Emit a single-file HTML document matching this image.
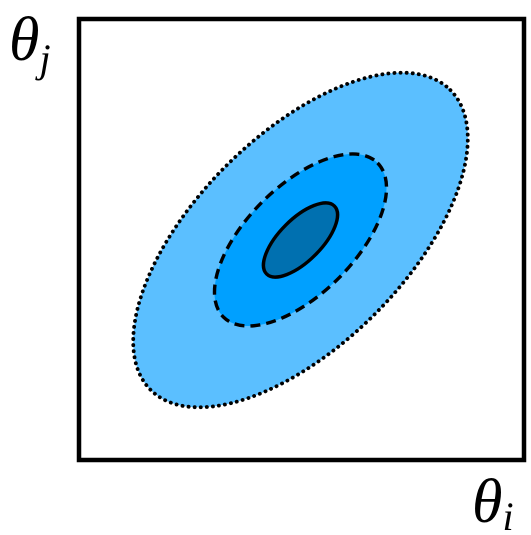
<!DOCTYPE html>
<html><head><meta charset="utf-8"><style>
html,body{margin:0;padding:0;background:#fff;width:531px;height:535px;overflow:hidden}
svg{display:block}
</style></head><body>
<svg id="chart" width="531" height="535" viewBox="0 0 531 535" xmlns="http://www.w3.org/2000/svg">
<g id="ellipses"></g>
<rect x="79" y="19" width="445" height="441" fill="none" stroke="#000" stroke-width="4.5"/>
<text x="9" y="60" font-family="Liberation Serif, serif" font-style="italic" font-size="62">θ<tspan font-size="40" dy="12">j</tspan></text>
<text x="472" y="522" font-family="Liberation Serif, serif" font-style="italic" font-size="62">θ<tspan font-size="40" dy="8">i</tspan></text>
</svg>
<script>
const levels = ['outer-2sigma','middle-1sigma','inner-core'];
const semiMajor = [212, 109, 48];
const semiMinor = [105, 54, 21];
const fills = ['#5bbfff','#00a0ff','#0070b0'];
const dashes = ['0.1 6','10 6','none'];
const centerX = 300.5, centerY = 240, angle = -45;
const g = document.getElementById('ellipses');
const ns = 'http://www.w3.org/2000/svg';
for (let i = 0; i < levels.length; i++) {
  const e = document.createElementNS(ns, 'ellipse');
  
  
  e.setAttribute('cx', centerX);
  e.setAttribute('cy', centerY);
  e.setAttribute('rx', semiMajor[i]);
  e.setAttribute('ry', semiMinor[i]);
  e.setAttribute('transform', `rotate(${angle} ${centerX} ${centerY})`);
  e.setAttribute('fill', fills[i]);
  e.setAttribute('stroke', '#000');
  e.setAttribute('stroke-width', i === 0 ? 3.8 : 3.4);
  if (i === 0) e.setAttribute('stroke-linecap', 'round');
  if (dashes[i] !== 'none') e.setAttribute('stroke-dasharray', dashes[i]);
  g.appendChild(e);
}
</script>
</body></html>
